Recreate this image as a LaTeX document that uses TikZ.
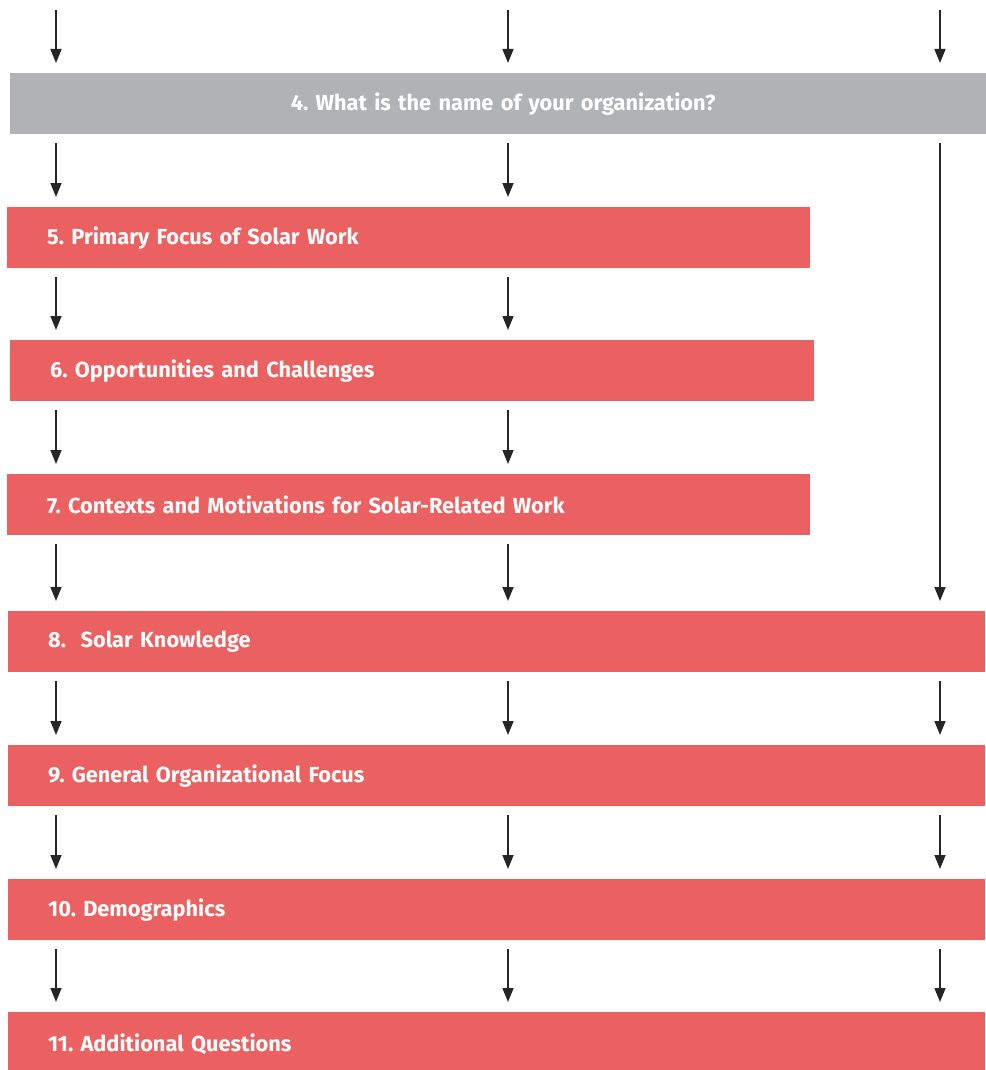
\documentclass[tikz,border=0pt]{standalone}
\usepackage{fontspec}
\setmainfont{Fira Sans}
\usepackage{xcolor}
\usepackage{tikz}
\usetikzlibrary{arrows.meta,positioning}
\definecolor{surveyred}{RGB}{235,97,98}
\definecolor{surveygray}{RGB}{176,179,181}
\frenchspacing

\begin{document}
\begin{tikzpicture}[x=1pt, y=-1pt,
    qbox/.style={fill=surveyred, anchor=north west, minimum height=61pt,
        inner xsep=40pt, inner ysep=0pt, text=white, align=left,
        font=\fontsize{21.8}{26}\selectfont\bfseries},
    flow/.style={-{Triangle[length=14pt, width=11pt]}, line width=1.6pt, black!85}]
    \useasboundingbox (0,0) rectangle (985,1070);
    % Question blocks
    \node[qbox, fill=surveygray, align=center, text width=906pt] (q4) at (10,73) {4. What is the name of your organization?};
    \node[qbox, text width=723pt] (q5) at (7,207) {5. Primary Focus of Solar Work};
    \node[qbox, text width=724pt] (q6) at (10,340) {6. Opportunities and Challenges};
    \node[qbox, text width=723pt] (q7) at (7,474) {7. Contexts and Motivations for Solar-Related Work};
    \node[qbox, text width=897pt] (q8) at (8,611) {8.~ Solar Knowledge};
    \node[qbox, text width=897pt] (q9) at (8,745) {9. General Organizational Focus};
    \node[qbox, text width=897pt] (q10) at (8,879) {10. Demographics};
    \node[qbox, text width=897pt, minimum height=64pt] (q11) at (8,1012) {11. Additional Questions};
    % Columns of the paths
    \coordinate (colA) at (56,10);
    \coordinate (colB) at (508,10);
    \coordinate (colC) at (940,10);
    % Entry arrows
    \foreach \c in {colA, colB, colC}
        \draw[flow] (\c) -- ([yshift=10pt]q4.north -| \c);
    % Arrows between the blocks
    \foreach \a/\b in {q4/q5, q5/q6, q6/q7, q7/q8, q8/q9, q9/q10, q10/q11}
        \foreach \c in {colA, colB}
            \draw[flow] ([yshift=-9pt]\a.south -| \c) -- ([yshift=10pt]\b.north -| \c);
    % Third path skips 5 to 7
    \foreach \a/\b in {q4/q8, q8/q9, q9/q10, q10/q11}
        \draw[flow] ([yshift=-9pt]\a.south -| colC) -- ([yshift=10pt]\b.north -| colC);
\end{tikzpicture}
\end{document}
